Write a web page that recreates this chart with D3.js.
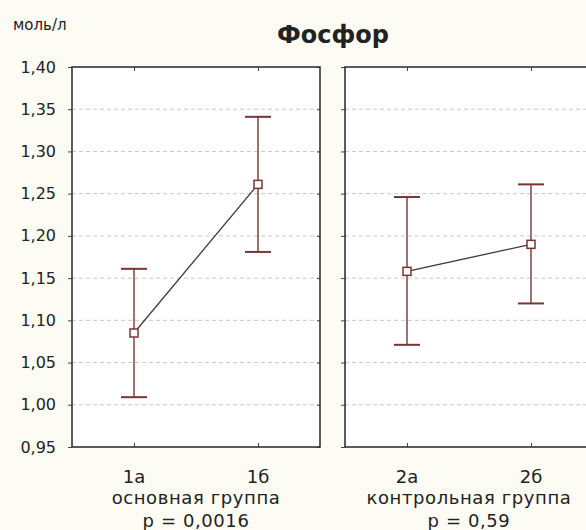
<!DOCTYPE html>
<html>
<head>
<meta charset="utf-8">
<script src="https://cdn.jsdelivr.net/npm/d3@7"></script>
<style>
  body { margin: 0; background: #fdfcf4; }
  svg { display: block; }
  text { font-family: "DejaVu Sans", Verdana, sans-serif; fill: #222; }
</style>
</head>
<body>
<script>
// data
var panels = ["основная группа", "контрольная группа"];
var pValues = ["p = 0,0016", "p = 0,59"];
var groups = [["1а", "1б"], ["2а", "2б"]];
var means = [[1.085, 1.261], [1.158, 1.190]];
var lower = [[1.009, 1.181], [1.071, 1.120]];
var upper = [[1.161, 1.341], [1.246, 1.261]];
var yTicks = [0.95, 1.00, 1.05, 1.10, 1.15, 1.20, 1.25, 1.30, 1.35, 1.40];

var W = 586, H = 530;
var plotTop = 67, plotBottom = 447;
var panelW = 248;
var panelX = [72, 345];

var svg = d3.select("body").append("svg")
  .attr("width", W)
  .attr("height", H);

svg.append("rect")
  .attr("width", W).attr("height", H)
  .attr("fill", "#fdfcf4");

var y = d3.scaleLinear()
  .domain([0.95, 1.40])
  .range([plotBottom, plotTop]);

var fmt = function(v) { return d3.format(".2f")(v).replace(".", ","); };

var barColor = "#7a3434";

// title and unit
svg.append("text")
  .attr("x", 333).attr("y", 43)
  .attr("text-anchor", "middle")
  .style("font-size", "24px")
  .style("font-weight", "bold")
  .text("Фосфор");

svg.append("text")
  .attr("x", 13).attr("y", 30)
  .style("font-size", "15px")
  .text("моль/л");

// y axis labels (only once, left of first panel)
svg.append("g")
  .selectAll("text")
  .data(yTicks)
  .enter()
  .append("text")
  .attr("x", 56)
  .attr("y", d => y(d))
  .attr("dy", "0.35em")
  .attr("text-anchor", "end")
  .style("font-size", "16px")
  .text(fmt);

panels.forEach(function(name, i) {
  var g = svg.append("g").attr("transform", "translate(" + panelX[i] + ",0)");

  var x = d3.scalePoint()
    .domain(groups[i])
    .range([0, panelW])
    .padding(0.5);

  g.append("rect")
    .attr("x", 0).attr("y", plotTop)
    .attr("width", panelW).attr("height", plotBottom - plotTop)
    .attr("fill", "#fff");

  // dashed grid
  g.append("g")
    .selectAll("line")
    .data(yTicks.filter(d => d > 0.95 && d < 1.40))
    .enter()
    .append("line")
    .attr("x1", 0).attr("x2", panelW)
    .attr("y1", d => y(d)).attr("y2", d => y(d))
    .attr("stroke", "#c8c8c8")
    .attr("stroke-width", 1)
    .attr("stroke-dasharray", "4,3");

  // y ticks on both side edges
  var yAxisL = d3.axisLeft(y).tickValues(yTicks).tickSize(4).tickFormat("");
  var yAxisR = d3.axisRight(y).tickValues(yTicks).tickSize(-3).tickFormat("");
  g.append("g").call(yAxisL).call(s => s.select(".domain").remove())
    .selectAll("line").attr("stroke", "#444");
  g.append("g").attr("transform", "translate(" + panelW + ",0)")
    .call(yAxisR).call(s => s.select(".domain").remove())
    .selectAll("line").attr("stroke", "#444");

  // x ticks top and bottom (inside)
  g.append("g").attr("transform", "translate(0," + plotTop + ")")
    .call(d3.axisTop(x).tickSize(-4).tickFormat(""))
    .call(s => s.select(".domain").remove())
    .selectAll("line").attr("stroke", "#444");
  g.append("g").attr("transform", "translate(0," + plotBottom + ")")
    .call(d3.axisBottom(x).tickSize(-4).tickFormat(""))
    .call(s => s.select(".domain").remove())
    .selectAll("line").attr("stroke", "#444");

  // frame
  g.append("rect")
    .attr("x", 0).attr("y", plotTop)
    .attr("width", panelW).attr("height", plotBottom - plotTop)
    .attr("fill", "none")
    .attr("stroke", "#333")
    .attr("stroke-width", 1.6);

  var pts = groups[i].map(function(k, j) {
    return { key: k, m: means[i][j], lo: lower[i][j], hi: upper[i][j] };
  });

  // connecting line
  g.append("path")
    .datum(pts)
    .attr("fill", "none")
    .attr("stroke", "#4a3434")
    .attr("stroke-width", 1.3)
    .attr("d", d3.line().x(d => x(d.key)).y(d => y(d.m)));

  // error bars
  var eb = g.append("g").selectAll("g").data(pts).enter().append("g");
  eb.append("line")
    .attr("x1", d => x(d.key)).attr("x2", d => x(d.key))
    .attr("y1", d => y(d.lo)).attr("y2", d => y(d.hi))
    .attr("stroke", barColor).attr("stroke-width", 1.4);
  eb.append("line")
    .attr("x1", d => x(d.key) - 13).attr("x2", d => x(d.key) + 13)
    .attr("y1", d => y(d.hi)).attr("y2", d => y(d.hi))
    .attr("stroke", barColor).attr("stroke-width", 2);
  eb.append("line")
    .attr("x1", d => x(d.key) - 13).attr("x2", d => x(d.key) + 13)
    .attr("y1", d => y(d.lo)).attr("y2", d => y(d.lo))
    .attr("stroke", barColor).attr("stroke-width", 2);
  eb.append("rect")
    .attr("x", d => x(d.key) - 4).attr("y", d => y(d.m) - 4)
    .attr("width", 8).attr("height", 8)
    .attr("fill", "#fff")
    .attr("stroke", barColor).attr("stroke-width", 1.5);

  // labels under panel
  g.append("g").selectAll("text")
    .data(groups[i])
    .enter()
    .append("text")
    .attr("x", d => x(d))
    .attr("y", 483)
    .attr("text-anchor", "middle")
    .style("font-size", "18px")
    .text(d => d);

  g.append("text")
    .attr("x", panelW / 2).attr("y", 504)
    .attr("text-anchor", "middle")
    .style("font-size", "18px")
    .style("letter-spacing", "0.6px")
    .text(name);

  g.append("text")
    .attr("x", panelW / 2).attr("y", 527)
    .attr("text-anchor", "middle")
    .style("font-size", "18px")
    .style("letter-spacing", "0.6px")
    .text(pValues[i]);
});
</script>
</body>
</html>
